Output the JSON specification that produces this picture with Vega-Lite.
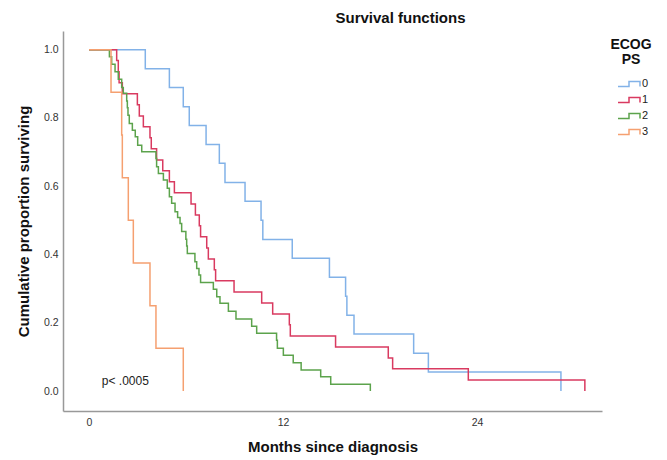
{
  "$schema": "https://vega.github.io/schema/vega-lite/v6.json",
  "width": 539,
  "height": 380,
  "autosize": {"type": "none"},
  "padding": {"left": 63, "top": 31, "right": 65, "bottom": 49},
  "background": "white",
  "config": {"view": {"stroke": null}, "font": "Liberation Sans"},
  "title": {"text": "Survival functions", "fontSize": 15, "fontWeight": "bold", "font": "Liberation Sans", "color": "#111", "anchor": "middle", "dx": 68, "offset": 5},
  "datasets": {
    "curves": [
      {"ecog": "0", "month": 0, "surv": 1},
      {"ecog": "0", "month": 3.48, "surv": 0.944},
      {"ecog": "0", "month": 4.97, "surv": 0.889},
      {"ecog": "0", "month": 5.83, "surv": 0.833},
      {"ecog": "0", "month": 6.2, "surv": 0.778},
      {"ecog": "0", "month": 7.24, "surv": 0.722},
      {"ecog": "0", "month": 8.06, "surv": 0.667},
      {"ecog": "0", "month": 8.41, "surv": 0.611},
      {"ecog": "0", "month": 9.65, "surv": 0.556},
      {"ecog": "0", "month": 10.64, "surv": 0.5},
      {"ecog": "0", "month": 10.75, "surv": 0.444},
      {"ecog": "0", "month": 12.57, "surv": 0.389},
      {"ecog": "0", "month": 14.87, "surv": 0.333},
      {"ecog": "0", "month": 15.87, "surv": 0.278},
      {"ecog": "0", "month": 15.95, "surv": 0.222},
      {"ecog": "0", "month": 16.39, "surv": 0.167},
      {"ecog": "0", "month": 20.08, "surv": 0.111},
      {"ecog": "0", "month": 20.99, "surv": 0.056},
      {"ecog": "0", "month": 29.19, "surv": 0},
      {"ecog": "1", "month": 0, "surv": 1},
      {"ecog": "1", "month": 1.71, "surv": 0.968},
      {"ecog": "1", "month": 1.81, "surv": 0.935},
      {"ecog": "1", "month": 1.86, "surv": 0.903},
      {"ecog": "1", "month": 2.06, "surv": 0.871},
      {"ecog": "1", "month": 2.99, "surv": 0.839},
      {"ecog": "1", "month": 3.11, "surv": 0.806},
      {"ecog": "1", "month": 3.36, "surv": 0.774},
      {"ecog": "1", "month": 3.77, "surv": 0.742},
      {"ecog": "1", "month": 3.85, "surv": 0.71},
      {"ecog": "1", "month": 4.18, "surv": 0.677},
      {"ecog": "1", "month": 4.56, "surv": 0.645},
      {"ecog": "1", "month": 4.97, "surv": 0.613},
      {"ecog": "1", "month": 5.28, "surv": 0.581},
      {"ecog": "1", "month": 6.31, "surv": 0.548},
      {"ecog": "1", "month": 6.58, "surv": 0.516},
      {"ecog": "1", "month": 6.82, "surv": 0.484},
      {"ecog": "1", "month": 6.9, "surv": 0.452},
      {"ecog": "1", "month": 7.28, "surv": 0.419},
      {"ecog": "1", "month": 7.38, "surv": 0.387},
      {"ecog": "1", "month": 7.75, "surv": 0.355},
      {"ecog": "1", "month": 7.83, "surv": 0.323},
      {"ecog": "1", "month": 8.97, "surv": 0.29},
      {"ecog": "1", "month": 10.68, "surv": 0.258},
      {"ecog": "1", "month": 11.36, "surv": 0.226},
      {"ecog": "1", "month": 12.39, "surv": 0.194},
      {"ecog": "1", "month": 12.45, "surv": 0.161},
      {"ecog": "1", "month": 15.25, "surv": 0.129},
      {"ecog": "1", "month": 18.51, "surv": 0.097},
      {"ecog": "1", "month": 18.78, "surv": 0.065},
      {"ecog": "1", "month": 23.46, "surv": 0.032},
      {"ecog": "1", "month": 30.67, "surv": 0},
      {"ecog": "2", "month": 0, "surv": 1},
      {"ecog": "2", "month": 1.26, "surv": 0.979},
      {"ecog": "2", "month": 1.4, "surv": 0.957},
      {"ecog": "2", "month": 1.61, "surv": 0.935},
      {"ecog": "2", "month": 1.81, "surv": 0.913},
      {"ecog": "2", "month": 2.02, "surv": 0.889},
      {"ecog": "2", "month": 2.12, "surv": 0.872},
      {"ecog": "2", "month": 2.33, "surv": 0.85},
      {"ecog": "2", "month": 2.37, "surv": 0.83},
      {"ecog": "2", "month": 2.41, "surv": 0.808},
      {"ecog": "2", "month": 2.49, "surv": 0.784},
      {"ecog": "2", "month": 2.68, "surv": 0.764},
      {"ecog": "2", "month": 2.86, "surv": 0.745},
      {"ecog": "2", "month": 3.01, "surv": 0.72},
      {"ecog": "2", "month": 3.26, "surv": 0.701},
      {"ecog": "2", "month": 4.14, "surv": 0.681},
      {"ecog": "2", "month": 4.18, "surv": 0.657},
      {"ecog": "2", "month": 4.29, "surv": 0.637},
      {"ecog": "2", "month": 4.6, "surv": 0.618},
      {"ecog": "2", "month": 4.84, "surv": 0.594},
      {"ecog": "2", "month": 4.97, "surv": 0.569},
      {"ecog": "2", "month": 5.11, "surv": 0.55},
      {"ecog": "2", "month": 5.32, "surv": 0.525},
      {"ecog": "2", "month": 5.48, "surv": 0.508},
      {"ecog": "2", "month": 5.63, "surv": 0.491},
      {"ecog": "2", "month": 5.73, "surv": 0.467},
      {"ecog": "2", "month": 5.99, "surv": 0.445},
      {"ecog": "2", "month": 6.04, "surv": 0.425},
      {"ecog": "2", "month": 6.08, "surv": 0.403},
      {"ecog": "2", "month": 6.55, "surv": 0.379},
      {"ecog": "2", "month": 6.66, "surv": 0.359},
      {"ecog": "2", "month": 6.8, "surv": 0.34},
      {"ecog": "2", "month": 6.9, "surv": 0.318},
      {"ecog": "2", "month": 7.69, "surv": 0.298},
      {"ecog": "2", "month": 7.9, "surv": 0.276},
      {"ecog": "2", "month": 8.1, "surv": 0.257},
      {"ecog": "2", "month": 8.62, "surv": 0.234},
      {"ecog": "2", "month": 9.09, "surv": 0.211},
      {"ecog": "2", "month": 10.06, "surv": 0.19},
      {"ecog": "2", "month": 10.37, "surv": 0.169},
      {"ecog": "2", "month": 11.6, "surv": 0.149},
      {"ecog": "2", "month": 11.65, "surv": 0.125},
      {"ecog": "2", "month": 12.02, "surv": 0.105},
      {"ecog": "2", "month": 12.63, "surv": 0.083},
      {"ecog": "2", "month": 13.12, "surv": 0.0615},
      {"ecog": "2", "month": 14.33, "surv": 0.042},
      {"ecog": "2", "month": 14.95, "surv": 0.0195},
      {"ecog": "2", "month": 17.4, "surv": 0},
      {"ecog": "3", "month": 0, "surv": 1},
      {"ecog": "3", "month": 1.36, "surv": 0.875},
      {"ecog": "3", "month": 2.02, "surv": 0.75},
      {"ecog": "3", "month": 2.06, "surv": 0.625},
      {"ecog": "3", "month": 2.43, "surv": 0.5},
      {"ecog": "3", "month": 2.74, "surv": 0.375},
      {"ecog": "3", "month": 3.77, "surv": 0.25},
      {"ecog": "3", "month": 4.14, "surv": 0.125},
      {"ecog": "3", "month": 5.83, "surv": 0}
    ],
    "note": [
      {"label": "p< .0005", "month": 0.79, "surv": 0.03}
    ]
  },
  "layer": [
    {
      "data": {"name": "curves"},
      "mark": {"type": "line", "interpolate": "step-after", "strokeWidth": 1.5},
      "encoding": {
        "x": {
          "field": "month", "type": "quantitative",
          "scale": {"domain": [-1.61, 31.73], "nice": false, "zero": false},
          "axis": {
            "values": [0, 12, 24], "ticks": false, "tickSize": 0, "grid": false,
            "domainColor": "#999999", "domainWidth": 1.5,
            "labelFontSize": 10.5, "labelColor": "#333333", "labelPadding": 6, "labelFlush": false,
            "title": "Months since diagnosis", "titleFontSize": 15, "titleFontWeight": "bold", "titleColor": "#111111", "titlePadding": 12
          }
        },
        "y": {
          "field": "surv", "type": "quantitative",
          "scale": {"domain": [-0.0585, 1.0547], "nice": false, "zero": false},
          "axis": {
            "values": [0, 0.2, 0.4, 0.6, 0.8, 1], "format": ".1f", "ticks": false, "tickSize": 0, "grid": false,
            "domainColor": "#999999", "domainWidth": 1.5,
            "labelFontSize": 10.5, "labelColor": "#333333", "labelPadding": 5, "labelFlush": false,
            "title": "Cumulative proportion surviving", "titleFontSize": 15, "titleFontWeight": "bold", "titleColor": "#111111", "titlePadding": 12
          }
        },
        "color": {
          "field": "ecog", "type": "nominal",
          "scale": {"domain": ["0", "1", "2", "3"], "range": ["#82b2e8", "#d93a60", "#5ca34c", "#f5a070"]},
          "legend": {
            "orient": "none", "legendX": 547, "legendY": 7,
            "title": ["ECOG", "PS"], "titleFontSize": 14, "titleFontWeight": "bold", "titleColor": "#111111",
            "titleAnchor": "middle", "titleAlign": "center", "titleLineHeight": 15, "titlePadding": 8,
            "symbolType": "M-1.375,0.31H0V-0.31H1.375V0.31", "symbolSize": 256, "symbolStrokeWidth": 1.5,
            "symbolFillColor": "transparent", "symbolOffset": 6,
            "labelFontSize": 11, "labelOffset": 4, "labelColor": "#222222",
            "rowPadding": 1, "padding": 0
          }
        }
      }
    },
    {
      "data": {"name": "note"},
      "mark": {"type": "text", "align": "left", "baseline": "middle", "fontSize": 12, "color": "#222222", "font": "Liberation Sans"},
      "encoding": {
        "x": {"field": "month", "type": "quantitative"},
        "y": {"field": "surv", "type": "quantitative"},
        "text": {"field": "label", "type": "nominal"}
      }
    }
  ]
}
